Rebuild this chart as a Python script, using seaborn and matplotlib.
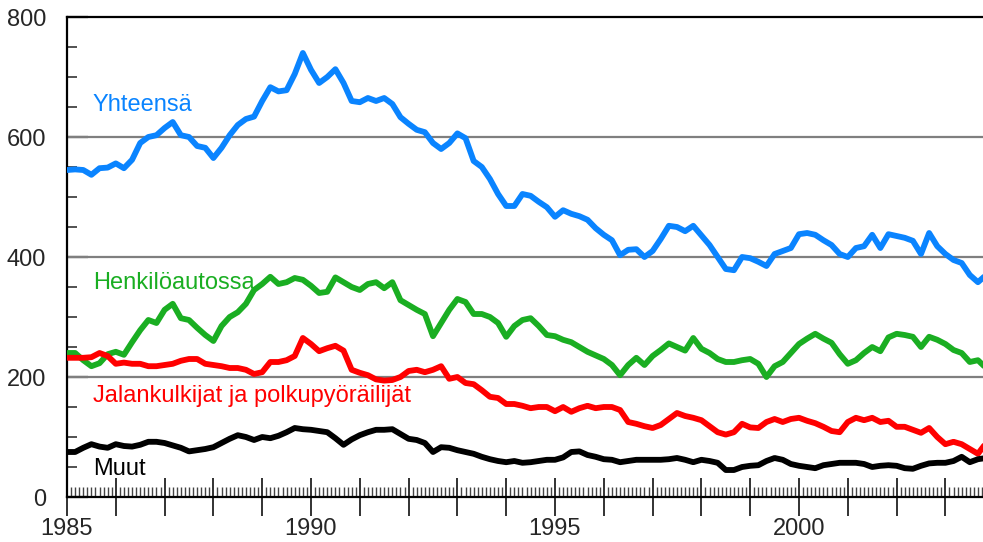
import numpy as np
import pandas as pd
import matplotlib
matplotlib.use("Agg")
import matplotlib.pyplot as plt
import matplotlib.ticker as mticker
import seaborn as sns

# kahden kuukauden välein, 1985.0 ->
vuosi = 1985 + np.arange(114) / 6

yhteensa = [545, 546, 545, 537, 548, 549, 556, 548, 562, 590, 600, 603, 615, 625, 603, 600,
            585, 582, 565, 582, 603, 620, 630, 634, 660, 683, 676, 678, 705, 740, 712, 690,
            700, 713, 690, 660, 658, 665, 660, 665, 655, 633, 622, 612, 608, 590, 580, 590,
            606, 598, 560, 550, 530, 505, 485, 485, 505, 502, 492, 483, 467, 478, 472, 468,
            462, 448, 437, 428, 403, 412, 413, 400, 410, 430, 452, 450, 443, 452, 436, 420,
            400, 380, 378, 400, 398, 392, 385, 405, 410, 415, 438, 440, 437, 428, 420, 405,
            400, 415, 418, 437, 415, 438, 435, 432, 427, 405, 440, 418, 405, 395, 390, 370,
            358, 370]

henkiloauto = [240, 240, 228, 218, 223, 238, 242, 237, 258, 278, 295, 290, 312, 322, 298, 295,
               282, 270, 260, 285, 300, 308, 322, 345, 355, 367, 355, 358, 365, 362, 352, 340,
               342, 366, 358, 350, 345, 355, 358, 348, 358, 328, 320, 312, 305, 268, 290, 312,
               330, 325, 305, 305, 300, 290, 267, 285, 295, 298, 285, 270, 268, 262, 258, 250,
               242, 236, 230, 220, 203, 220, 232, 220, 235, 245, 256, 250, 244, 265, 247, 240,
               230, 225, 225, 228, 230, 222, 200, 218, 225, 240, 255, 264, 272, 264, 257, 238,
               222, 228, 240, 250, 243, 266, 272, 270, 267, 250, 267, 262, 255, 245, 240, 225,
               228, 215]

jalankulkijat = [232, 232, 232, 233, 240, 235, 222, 224, 222, 222, 218, 218, 220, 222, 227, 230,
                 230, 222, 220, 218, 215, 215, 212, 205, 208, 225, 225, 228, 235, 265, 255, 243,
                 248, 252, 244, 212, 207, 203, 196, 194, 195, 200, 210, 212, 208, 212, 218, 197,
                 200, 190, 188, 178, 167, 165, 155, 155, 152, 148, 150, 150, 143, 150, 142, 148,
                 152, 148, 150, 150, 145, 125, 122, 118, 115, 120, 130, 140, 135, 132, 128, 118,
                 108, 104, 108, 122, 116, 115, 125, 130, 125, 130, 132, 127, 123, 117, 110, 108,
                 125, 132, 128, 132, 125, 127, 117, 117, 112, 107, 115, 100, 88, 92, 88, 80,
                 72, 90]

muut = [75, 75, 82, 88, 84, 82, 88, 85, 84, 87, 92, 92, 90, 86, 82, 76,
        78, 80, 83, 90, 97, 103, 100, 95, 100, 98, 102, 108, 115, 113, 112, 110,
        108, 98, 87, 96, 103, 108, 112, 112, 113, 105, 97, 95, 90, 75, 83, 82,
        78, 75, 72, 67, 63, 60, 58, 60, 57, 58, 60, 62, 62, 66, 75, 76,
        70, 67, 63, 62, 58, 60, 62, 62, 62, 62, 63, 65, 62, 58, 62, 60,
        57, 45, 45, 50, 52, 53, 60, 65, 62, 55, 52, 50, 48, 53, 55, 57,
        57, 57, 55, 50, 52, 53, 52, 48, 47, 52, 56, 57, 57, 60, 67, 58,
        63, 65]

sarjat = ["Yhteensä", "Henkilöautossa", "Jalankulkijat ja polkupyöräilijät", "Muut"]
varit = ["#0a84ff", "#1aae22", "#ff0000", "#000000"]
tekstin_y = [653, 357, 168, 47]

df = pd.DataFrame({"vuosi": vuosi, sarjat[0]: yhteensa, sarjat[1]: henkiloauto,
                   sarjat[2]: jalankulkijat, sarjat[3]: muut})

sns.set_style("white")
plt.rcParams["font.family"] = ["Liberation Sans", "DejaVu Sans"]

fig = plt.figure(figsize=(9.83, 5.42), dpi=100)
ax = fig.add_axes([67 / 983, 45 / 542, 1 - 67 / 983, 480 / 542])

for y in [200, 400, 600]:
    ax.axhline(y, color="#7f7f7f", lw=1.6, zorder=1)

for nimi, vari in zip(sarjat, varit):
    sns.lineplot(data=df, x="vuosi", y=nimi, color=vari, lw=4.2, ax=ax, zorder=3)

for nimi, vari, ty in zip(sarjat, varit, tekstin_y):
    ax.text(1985.53, ty, nimi, color=vari, fontsize=17, va="center", ha="left")

ax.set_xlim(1985, 1985 + 916 / 48.8)
ax.set_ylim(0, 800)
ax.set_xlabel("")
ax.set_ylabel("")

ax.xaxis.set_major_locator(mticker.MultipleLocator(1))
ax.xaxis.set_minor_locator(mticker.MultipleLocator(1 / 12))
ax.xaxis.set_major_formatter(mticker.FuncFormatter(
    lambda v, p: str(int(round(v))) if int(round(v)) % 5 == 0 else ""))
ax.yaxis.set_major_locator(mticker.MultipleLocator(200))
ax.yaxis.set_minor_locator(mticker.MultipleLocator(50))

ax.tick_params(which="both", bottom=True, left=True, top=False, right=False)
ax.tick_params(axis="x", which="major", direction="inout", length=28, width=1.3,
               color="#222222", labelsize=17, pad=1)
ax.tick_params(axis="x", which="minor", direction="in", length=7, width=1.0, color="#444444")
ax.tick_params(axis="y", which="major", direction="in", length=15, width=1.6,
               color="#222222", labelsize=17, pad=15)
ax.tick_params(axis="y", which="minor", direction="in", length=7, width=1.2, color="#333333")

for s in ["left", "bottom", "top"]:
    ax.spines[s].set_color("black")
    ax.spines[s].set_linewidth(1.6)
ax.spines["right"].set_visible(False)

fig.savefig("out.png", dpi=100)
